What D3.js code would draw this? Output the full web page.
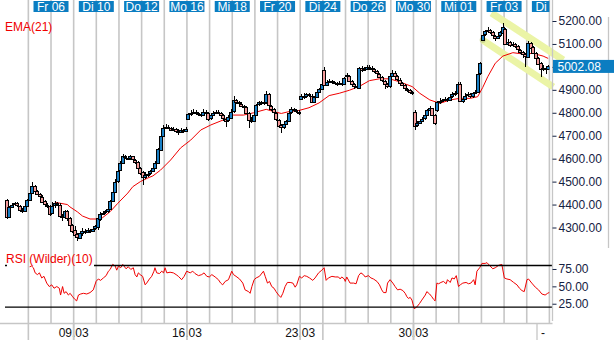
<!DOCTYPE html>
<html>
<head>
<meta charset="utf-8">
<script src="https://cdn.jsdelivr.net/npm/d3@7"></script>
<style>
  html, body { margin: 0; padding: 0; background: #fff; }
  svg { display: block; font-family: "Liberation Sans", Arial, sans-serif; }
</style>
</head>
<body>
<svg id="chart" width="614" height="340"></svg>
<script>
// Hourly candles, 9 per trading day, one row per day
const dayLabels = ["Mi 04","Do 05","Fr 06","Mo 09","Di 10","Mi 11","Do 12","Fr 13","Mo 16","Di 17","Mi 18","Do 19",
                   "Fr 20","Mo 23","Di 24","Mi 25","Do 26","Fr 27","Mo 30","Di 31","Mi 01","Do 02","Fr 03","Mo 06","Di 07"];
const candlesPerDay = 9;

const opens = [
  4420,4345,4390,4400,4405,4395,4378,4372,4395,
  4420,4450,4480,4460,4445,4435,4415,4400,4395,
  4365,4395,4405,4400,4350,4345,4370,4340,4310,
  4290,4270,4255,4275,4285,4280,4290,4285,4295,
  4300,4340,4360,4365,4370,4380,4415,4455,4500,
  4550,4580,4610,4605,4600,4610,4595,4585,4560,
  4540,4520,4530,4535,4545,4560,4580,4640,4700,
  4735,4740,4735,4725,4730,4720,4715,4725,4720,
  4775,4795,4800,4805,4800,4795,4790,4805,4800,
  4775,4790,4800,4805,4800,4790,4775,4765,4780,
  4805,4855,4845,4840,4830,4825,4800,4770,4765,
  4790,4835,4845,4840,4845,4880,4830,4815,4800,
  4770,4745,4735,4750,4765,4800,4815,4810,4805,
  4860,4875,4870,4880,4875,4850,4870,4890,4905,
  4985,4920,4935,4940,4935,4930,4925,4930,4925,
  4965,4960,4940,4925,4915,4910,4995,4985,4990,
  5000,4995,4990,4980,4970,4955,4940,4925,4915,
  4960,4975,4960,4945,4930,4920,4905,4900,4890,
  4805,4745,4755,4765,4775,4790,4810,4820,4790,
  4810,4845,4850,4855,4860,4855,4870,4880,4885,
  4925,4850,4860,4875,4880,4870,4885,4890,4970,
  5120,5140,5155,5160,5150,5135,5125,5135,5150,
  5165,5100,5110,5095,5100,5090,5075,5065,5055,
  5045,5105,5085,5060,5040,5015,4990,4995,4990
];
const highs = [
  4425,4395,4408,4412,4410,4398,4385,4398,4425,
  4455,4500,4485,4465,4450,4440,4420,4405,4398,
  4412,4415,4410,4405,4360,4378,4375,4345,4315,
  4305,4278,4280,4300,4292,4298,4295,4305,4312,
  4345,4368,4372,4378,4388,4420,4462,4510,4555,
  4590,4620,4615,4612,4618,4612,4600,4590,4565,
  4548,4540,4542,4550,4565,4590,4645,4710,4745,
  4752,4745,4740,4738,4735,4728,4732,4730,4738,
  4800,4812,4815,4810,4805,4800,4815,4810,4805,
  4795,4808,4812,4810,4805,4795,4780,4790,4815,
  4875,4860,4850,4845,4835,4830,4805,4780,4795,
  4840,4850,4850,4850,4895,4885,4835,4820,4805,
  4775,4752,4755,4770,4805,4825,4820,4815,4810,
  4882,4885,4888,4885,4880,4875,4895,4910,4932,
  5000,4945,4948,4945,4940,4935,4938,4935,4958,
  4972,4965,4945,4930,4920,5000,5002,4998,5010,
  5008,5002,4995,4985,4975,4960,4945,4930,4968,
  4985,4980,4965,4950,4935,4925,4910,4905,4895,
  4810,4762,4770,4782,4798,4815,4828,4822,4795,
  4850,4865,4862,4868,4865,4878,4890,4895,4935,
  4932,4868,4885,4890,4885,4892,4900,4975,5022,
  5150,5162,5172,5165,5155,5140,5145,5158,5190,
  5170,5120,5115,5108,5105,5095,5080,5070,5060,
  5115,5110,5090,5065,5045,5020,5008,5002,5010
];
const lows = [
  4335,4340,4385,4395,4390,4370,4365,4368,4390,
  4415,4445,4455,4440,4430,4410,4395,4385,4350,
  4360,4385,4395,4340,4330,4340,4330,4305,4275,
  4262,4240,4250,4265,4272,4275,4275,4280,4290,
  4290,4330,4355,4360,4365,4375,4410,4450,4495,
  4545,4575,4598,4595,4595,4590,4578,4555,4530,
  4485,4512,4522,4528,4540,4555,4575,4635,4695,
  4728,4728,4720,4720,4712,4705,4710,4712,4715,
  4770,4788,4795,4795,4788,4782,4785,4795,4765,
  4770,4785,4795,4795,4785,4765,4740,4760,4775,
  4800,4840,4835,4825,4818,4795,4735,4755,4760,
  4785,4828,4835,4835,4840,4825,4808,4795,4765,
  4735,4712,4728,4745,4760,4795,4805,4798,4792,
  4855,4862,4865,4870,4842,4845,4865,4885,4900,
  4915,4915,4930,4928,4925,4918,4920,4918,4920,
  4948,4935,4920,4905,4902,4905,4978,4980,4985,
  4988,4985,4975,4965,4950,4935,4905,4908,4910,
  4955,4955,4940,4925,4915,4898,4892,4882,4878,
  4725,4738,4750,4760,4770,4785,4805,4785,4748,
  4805,4840,4845,4850,4848,4850,4865,4875,4880,
  4845,4842,4855,4868,4865,4866,4880,4885,4965,
  5115,5135,5150,5145,5128,5115,5120,5130,5148,
  5095,5095,5088,5090,5082,5068,5058,5040,5000,
  5040,5080,5055,5035,5010,4955,4980,4970,4985
];
const closes = [
  4345,4390,4400,4405,4395,4378,4372,4395,4420,
  4450,4480,4460,4445,4435,4415,4400,4395,4360,
  4395,4405,4400,4350,4345,4370,4340,4310,4285,
  4270,4255,4275,4285,4280,4290,4285,4295,4305,
  4340,4360,4365,4370,4380,4415,4455,4500,4545,
  4580,4610,4605,4600,4610,4595,4585,4560,4540,
  4520,4530,4535,4545,4560,4580,4640,4700,4735,
  4740,4735,4725,4730,4720,4715,4725,4720,4730,
  4795,4800,4805,4800,4795,4790,4805,4800,4775,
  4790,4800,4805,4800,4790,4775,4765,4780,4805,
  4855,4845,4840,4830,4825,4800,4770,4765,4790,
  4835,4845,4840,4845,4880,4830,4815,4800,4775,
  4745,4735,4750,4765,4800,4815,4810,4805,4800,
  4875,4870,4880,4875,4850,4870,4890,4905,4925,
  4920,4935,4940,4935,4930,4925,4930,4925,4950,
  4960,4940,4925,4915,4910,4995,4985,4990,5000,
  4995,4990,4980,4970,4955,4940,4925,4915,4960,
  4975,4960,4945,4930,4920,4905,4900,4890,4885,
  4745,4755,4765,4775,4790,4810,4820,4790,4755,
  4845,4850,4855,4860,4855,4870,4880,4885,4925,
  4850,4860,4875,4880,4870,4885,4890,4970,5015,
  5140,5155,5160,5150,5135,5125,5135,5150,5175,
  5100,5110,5095,5100,5090,5075,5065,5055,5045,
  5105,5085,5060,5040,5015,4990,4995,4990,5002.08
];

// EMA(21) of the closes, sampled at candle numbers
const emaAt = [19,24,25,28,30,33,36,38,41,44,48,50,53,56,58,61,65,69,73,77,81,86,90,94,98,103,106,109,112,116,
               120,124,128,132,136,140,144,148,152,156,161,164,168,172,176,180,184,187,189,191,194,197,201,205,209,213,215];
const emaValues = [4410,4400,4390,4368,4350,4337,4337,4343,4369,4405,4450,4478,4500,4516,4525,4550,4594,4647,4681,4725,
                   4747,4769,4790,4790,4800,4815,4805,4797,4805,4810,4822,4843,4875,4885,4898,4915,4940,4948,4948,4935,
                   4914,4885,4856,4841,4856,4863,4863,4870,4910,4957,5016,5047,5062,5056,5059,5047,5037];

// RSI (Wilder, 10), sampled at candle numbers
const rsiAt = [9,9.8,10.5,11.2,12.1,12.9,13.8,14.7,15.8,16.8,17.8,18.7,19.8,20.8,21.3,22.1,22.7,23.5,24.4,25.1,
  26.1,27,27.7,28.4,29.3,30.4,31.7,33,34.3,35.4,36.3,37.2,38.3,39.4,40.3,41,42,43,43.6,44.3,
  45.2,46,46.5,47.3,48.2,49.2,50.2,50.9,51.6,52.2,52.9,53.9,54.9,55.5,56.6,57.5,58.4,58.8,59.5,60.6,
  61.5,62.2,62.8,63.5,64.8,66.1,67.2,68.1,69.4,70.4,71.4,72.8,73.8,74.7,76.1,77.4,78.3,79.4,80.4,81.4,
  82.7,84,84.9,85.7,86.7,88,89.3,90,91,92.4,93.7,94.6,96,96.6,97.3,98.2,99,100.3,101.9,102.6,
  103.5,104.3,105.2,106.1,106.9,107.9,108.8,109.6,110.5,111.4,112.5,113.6,114.5,115.1,116.2,117.1,118.1,119.1,120.2,
  121.5,122.4,123.8,125.1,126,126.8,127.7,129.1,130.4,131.7,132.4,133,134,134.4,135,136.3,137.7,138.7,139.7,140.6,
  141.6,142.3,143.6,144.6,145.6,147,148,148.9,149.6,150.6,151.2,152.2,153.3,154.2,155.2,156.2,157.3,158.2,158.9,159.5,
  160.2,160.9,161.8,162.8,163.9,164.8,166.2,166.8,167.9,168.8,169.5,170.1,170.8,171.5,172.4,173.4,174.5,175,176.1,176.8,
  177.7,178.5,179.4,180.1,181.1,182.4,183.4,184.3,185.4,186,186.7,187.8,188.7,190,190.7,191.7,193,194,195.3,196.6,
  197.6,198.6,199.9,201.3,202.6,203.6,204.6,205.5,206.6,207.2,208.5,209.9,211.2,212.5,213.8,214.8,215.6];
const rsiValues = [78.2,79.2,76.8,69.4,66.9,69.4,62.1,64.4,54.7,49.7,52.2,47.3,49.7,47.3,37.5,49.7,40,42.4,37.5,40,
  35,31.2,29.1,37.5,39,40,39,41,44.9,57.1,60.6,58.6,62.1,65.4,71.8,74.3,81.6,79.2,73.3,79.2,
  76.8,81.6,79.2,75.3,78.2,74.3,76.8,66.9,63.5,69.4,66.9,64.4,52.2,54.7,60.6,64.4,71.8,76.8,69.4,68.4,
  71.8,69.4,76.8,69.4,70.3,69.4,66.9,64.4,59.6,64.4,71.8,69.4,71.8,68.4,65.4,66.9,69.4,64.4,63.5,66.9,
  63.5,59.6,54.7,52.2,57.1,59.6,71.8,66.9,64.4,60.6,54.7,44.9,42.4,40,49.7,59.6,62.1,64.4,71.8,64.4,
  54.7,57.1,49.7,47.3,42.4,37.5,34.1,40,49.7,55.6,55.6,54.7,48.8,52.2,64.4,62.1,65.4,64.4,62.1,
  58.6,62.1,69.4,73.3,76.8,58.6,62.1,64.4,63.5,63.5,60.6,63.5,60.6,57.1,63.5,54.7,54.7,53.7,65.4,69.4,
  66.9,63.5,65.4,62.1,60.6,57.1,52.2,44.9,41,41,54.7,59.6,54.7,49.7,44.9,45.9,43.9,40,35,32.6,
  34.1,30.2,17.9,20.3,25.3,30.2,37.5,42.4,39,35,31.2,29.1,54.7,53.7,55.6,57.1,53.7,59.6,55.6,62.1,
  60.6,65.4,49.7,52.2,54.7,55.6,53.7,54.7,59.6,52.2,71.8,76.8,83,83,84.1,80.2,75.3,76.8,80.2,81.6,
  62.1,60.6,59.6,55.6,52.2,47.3,43.9,42.4,59.6,60.6,54.7,48.8,44.9,39,37.5,40,41.5];

const priceTicks = [4300,4400,4500,4600,4700,4800,4900,5000,5100,5200];
const rsiTicks = [25,50,75];
const rsiBands = [20,80];
const weekLabels = ["09.03","16.03","23.03","30.03"];
const weekDays = [3,8,13,18];
const markDays = [1,3,8,13,14,18];
const lastPrice = 5002.08;

// Falling trend channel: [candle number, price] end points
const channelUpper = [[192.5,5235],[221,5030]];
const channelLower = [[189,5117],[217,4913]];

const svg = d3.select("#chart");
const plotRight = 549.4;
const axisX = 552.5;
const gridColor = "#c6c6c6";
const textColor = "#142142";
const upColor = "#1a7fc4";
const downColor = "#f39a9a";
const boxBlue = "#0b7dc1";

const x = d3.scaleLinear().domain([-0.5, opens.length - 0.5]).range([5.7, plotRight]);
const y = d3.scaleLinear().domain([4300, 5200]).range([227.5, 21]);
const yR = d3.scaleLinear().domain([20, 80]).range([307.2, 265.5]);
const dayX = d => x(d * candlesPerDay - 0.5);

svg.append("defs").append("clipPath").attr("id", "plot")
  .append("rect").attr("x", 0).attr("y", 0).attr("width", plotRight).attr("height", 340);

// day grid lines
svg.append("g").selectAll("line").data(d3.range(1, dayLabels.length)).join("line")
  .attr("x1", dayX).attr("x2", dayX).attr("y1", 0).attr("y2", 323)
  .attr("stroke", gridColor).attr("stroke-width", 1.6);

// base line of the indicator pane and date strip marks
svg.append("line").attr("x1", 0).attr("x2", axisX).attr("y1", 323.5).attr("y2", 323.5)
  .attr("stroke", gridColor).attr("stroke-width", 1.3);
svg.append("g").selectAll("line").data(markDays).join("line")
  .attr("x1", dayX).attr("x2", dayX).attr("y1", 323).attr("y2", 340)
  .attr("stroke", gridColor).attr("stroke-width", 1.6);

// trend channel
const chan = svg.append("g");
[channelUpper, channelLower].forEach(seg => {
  chan.append("line")
    .attr("x1", x(seg[0][0])).attr("y1", y(seg[0][1]))
    .attr("x2", x(seg[1][0])).attr("y2", y(seg[1][1]))
    .attr("stroke", "#ebf4a6").attr("stroke-width", 7).attr("stroke-linecap", "butt");
});
chan.append("circle").attr("cx", x(channelLower[0][0])).attr("cy", y(channelLower[0][1]))
  .attr("r", 3).attr("fill", "#c9d48c");

const plot = svg.append("g").attr("clip-path", "url(#plot)");

// EMA(21)
plot.append("path")
  .datum(emaAt.map((t, i) => [t, emaValues[i]]))
  .attr("fill", "none").attr("stroke", "#f00000").attr("stroke-width", 1)
  .attr("d", d3.line().x(d => x(d[0])).y(d => y(d[1])));

// candles: wick first, body drawn over it
const candles = plot.append("g").attr("shape-rendering", "crispEdges");
const idx = d3.range(opens.length);
candles.selectAll("line").data(idx).join("line")
  .attr("x1", i => Math.round(x(i)) + 0.5).attr("x2", i => Math.round(x(i)) + 0.5)
  .attr("y1", i => y(highs[i])).attr("y2", i => y(lows[i]))
  .attr("stroke", "#000").attr("stroke-width", 1);
candles.selectAll("rect").data(idx).join("rect")
  .attr("x", i => Math.round(x(i)) - 1.5)
  .attr("width", 3)
  .attr("y", i => Math.round(y(Math.max(opens[i], closes[i]))) + 0.5)
  .attr("height", i => Math.max(1, Math.round(Math.abs(y(opens[i]) - y(closes[i])))))
  .attr("fill", i => closes[i] >= opens[i] ? upColor : downColor)
  .attr("stroke", "#000").attr("stroke-width", 1);

// RSI guide lines
rsiBands.forEach(b => {
  svg.append("line").attr("x1", b === 80 ? 94 : 5).attr("x2", axisX)
    .attr("y1", yR(b)).attr("y2", yR(b)).attr("stroke", "#000").attr("stroke-width", 1.3);
});
svg.append("line").attr("x1", 5).attr("x2", 7).attr("y1", yR(80)).attr("y2", yR(80))
  .attr("stroke", "#000").attr("stroke-width", 1.3);

// RSI line
plot.append("path")
  .datum(rsiAt.map((t, i) => [t, rsiValues[i]]))
  .attr("fill", "none").attr("stroke", "#f00000").attr("stroke-width", 1)
  .attr("d", d3.line().x(d => x(d[0])).y(d => yR(d[1])));

// indicator captions
svg.append("text").attr("x", 5).attr("y", 31).attr("font-size", 12).attr("fill", "#f00000").text("EMA(21)");
svg.append("text").attr("x", 6).attr("y", 263).attr("font-size", 12).attr("fill", "#f00000").text("RSI (Wilder)(10)");

// day captions on top
const dayCaps = plot.append("g");
const topDays = d3.range(2, dayLabels.length, 2);
dayCaps.selectAll("rect").data(topDays).join("rect")
  .attr("x", d => dayX(d) - 17.5).attr("y", 1).attr("width", 35).attr("height", 11)
  .attr("fill", boxBlue);
dayCaps.selectAll("text").data(topDays).join("text")
  .attr("x", d => dayX(d)).attr("y", 11).attr("text-anchor", "middle")
  .attr("font-size", 12).attr("fill", "#fff").text(d => dayLabels[d]);

// axis frame lines
svg.append("line").attr("x1", axisX).attr("x2", axisX).attr("y1", 0).attr("y2", 321)
  .attr("stroke", gridColor).attr("stroke-width", 1.3);
svg.append("line").attr("x1", 608.5).attr("x2", 608.5).attr("y1", 17).attr("y2", 248)
  .attr("stroke", gridColor).attr("stroke-width", 1.3);

// price axis
const pAxis = svg.append("g").attr("transform", `translate(${axisX},0)`)
  .call(d3.axisRight(y).tickValues(priceTicks).tickFormat(d3.format(".2f")).tickSize(4).tickPadding(2));
pAxis.select(".domain").remove();
pAxis.selectAll("line").attr("stroke", textColor);
pAxis.selectAll("text").attr("fill", textColor).attr("font-size", 12)
  .attr("font-family", "'Liberation Sans', Arial, sans-serif");

// RSI axis
const rAxis = svg.append("g").attr("transform", `translate(${axisX},0)`)
  .call(d3.axisRight(yR).tickValues(rsiTicks).tickFormat(d3.format(".2f")).tickSize(4).tickPadding(2));
rAxis.select(".domain").remove();
rAxis.selectAll("line").attr("stroke", textColor);
rAxis.selectAll("text").attr("fill", textColor).attr("font-size", 12)
  .attr("font-family", "'Liberation Sans', Arial, sans-serif");

// last price marker
svg.append("rect").attr("x", axisX + 0.5).attr("y", y(lastPrice) - 6.5).attr("width", 614 - axisX).attr("height", 13)
  .attr("fill", boxBlue);
svg.append("text").attr("x", axisX + 5).attr("y", y(lastPrice) + 4.5).attr("font-size", 12).attr("fill", "#fff")
  .text(d3.format(".2f")(lastPrice));

// week captions at the bottom
const bottom = svg.append("g");
bottom.selectAll("text").data(weekDays).join("text")
  .attr("x", d => dayX(d)).attr("y", 337).attr("text-anchor", "middle")
  .attr("font-size", 12).attr("fill", "#111").text((d, i) => weekLabels[i]);
bottom.selectAll("line").data(weekDays).join("line")
  .attr("x1", dayX).attr("x2", dayX).attr("y1", 323).attr("y2", 340)
  .attr("stroke", gridColor).attr("stroke-width", 1.6);
bottom.append("line").attr("x1", 537).attr("x2", 537).attr("y1", 323).attr("y2", 340)
  .attr("stroke", gridColor).attr("stroke-width", 1.3);
bottom.append("text").attr("x", 543).attr("y", 337).attr("text-anchor", "middle")
  .attr("font-size", 12).attr("fill", "#111").text("-");
</script>
</body>
</html>
